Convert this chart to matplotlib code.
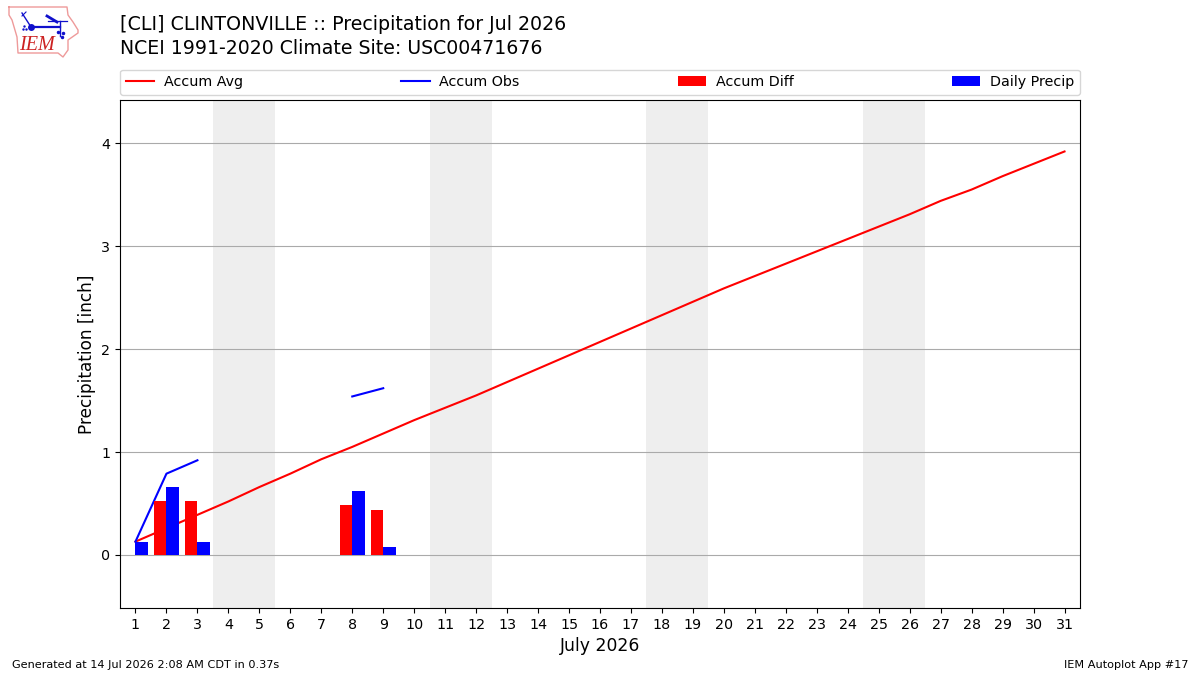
import numpy as np
import matplotlib
matplotlib.use("Agg")
import matplotlib.pyplot as plt

days = list(range(1, 32))
accum_avg = [0.13, 0.26, 0.39, 0.52, 0.66, 0.79, 0.93, 1.05, 1.18, 1.31, 1.43,
             1.55, 1.68, 1.81, 1.94, 2.07, 2.20, 2.33, 2.46, 2.59, 2.71, 2.83,
             2.95, 3.07, 3.19, 3.31, 3.44, 3.55, 3.68, 3.80, 3.92]
obs_days = [1, 2, 3, 4, 5, 6, 7, 8, 9]
accum_obs = [0.13, 0.79, 0.92, np.nan, np.nan, np.nan, np.nan, 1.54, 1.62]
accum_diff = [0.0, 0.52, 0.52, np.nan, np.nan, np.nan, np.nan, 0.49, 0.44]
daily_precip = [0.13, 0.66, 0.13, np.nan, np.nan, np.nan, np.nan, 0.62, 0.08]
weekends = [(3.5, 5.5), (10.5, 12.5), (17.5, 19.5), (24.5, 26.5)]

# state outline for the logo, in figure pixels
iowa_x = [9, 67, 68, 73, 78, 78, 68, 68, 63, 58, 18, 17, 12, 9, 9]
iowa_y = [7, 7, 15, 22, 30, 33, 40, 50, 57, 53, 53, 37, 20, 15, 7]

fig = plt.figure(figsize=(12, 6.75), dpi=100)
ax = fig.add_axes([120 / 1200, 1 - 608 / 675, 960 / 1200, 508 / 675])

for start, end in weekends:
    ax.axvspan(start, end, color="#eeeeee", lw=0, zorder=0)

ax.plot(days, accum_avg, color="r", lw=1.5, label="Accum Avg", zorder=3)
ax.plot(obs_days, accum_obs, color="b", lw=1.5, label="Accum Obs", zorder=3)
ax.bar(np.array(obs_days) - 0.2, accum_diff, 0.4, color="r", label="Accum Diff", zorder=4)
ax.bar(np.array(obs_days) + 0.2, daily_precip, 0.4, color="b", label="Daily Precip", zorder=4)

ax.set_xlim(0.5, 31.5)
ax.set_ylim(-0.515, 4.42)
ax.set_xticks(days)
ax.set_yticks([0, 1, 2, 3, 4])
ax.tick_params(labelsize=10.3)
ax.grid(axis="y", color="#aaaaaa", lw=0.8)
ax.set_axisbelow(True)
ax.set_xlabel("July 2026", fontsize=12.4)
ax.set_ylabel("Precipitation [inch]", fontsize=12.2, labelpad=3.5)

ax.legend(loc="lower left", bbox_to_anchor=(0, 1.01, 1, 0.05), ncol=4, mode="expand",
          borderaxespad=0, fontsize=10.25, handletextpad=0.68)

fig.text(120 / 1200, 1 - 25 / 675, "[CLI] CLINTONVILLE :: Precipitation for Jul 2026",
         fontsize=13.65, va="center")
fig.text(120 / 1200, 1 - 48 / 675, "NCEI 1991-2020 Climate Site: USC00471676",
         fontsize=13.6, va="center")
fig.text(12 / 1200, 1 - 665 / 675, "Generated at 14 Jul 2026 2:08 AM CDT in 0.37s",
         fontsize=8.12, va="center")
fig.text(1188 / 1200, 1 - 665 / 675, "IEM Autoplot App #17",
         fontsize=8.12, va="center", ha="right")

# logo, drawn over the whole figure in pixel coordinates
logo = fig.add_axes([0, 0, 1, 1], facecolor="none")
logo.set_xlim(0, 1200)
logo.set_ylim(675, 0)
logo.axis("off")
logo.plot(iowa_x, iowa_y, color="#ee9a9a", lw=1)
glyph = "#1010cc"
logo.plot([31, 60], [27, 27], color=glyph, lw=1.6)
logo.plot([31], [27], "o", color=glyph, ms=5, mew=0)
logo.plot([22, 31], [13, 27], color=glyph, lw=1)
logo.plot([22, 26], [16, 12], color=glyph, lw=0.8)
logo.plot([47, 57], [16, 22], color=glyph, lw=2)
logo.plot([48, 67], [21, 21], color=glyph, lw=0.9)
logo.plot([60, 60], [21, 36], color=glyph, lw=1)
logo.plot([23, 24, 26], [29, 26, 29], ".", color=glyph, ms=1.5)
logo.plot([58, 63, 62], [32, 33, 37], ".", color=glyph, ms=3)
logo.text(37, 45, "IEM", color="#cc2222", fontsize=14.5, family="Liberation Serif",
          style="italic", ha="center", va="center")

fig.savefig("out.png", dpi=100)
